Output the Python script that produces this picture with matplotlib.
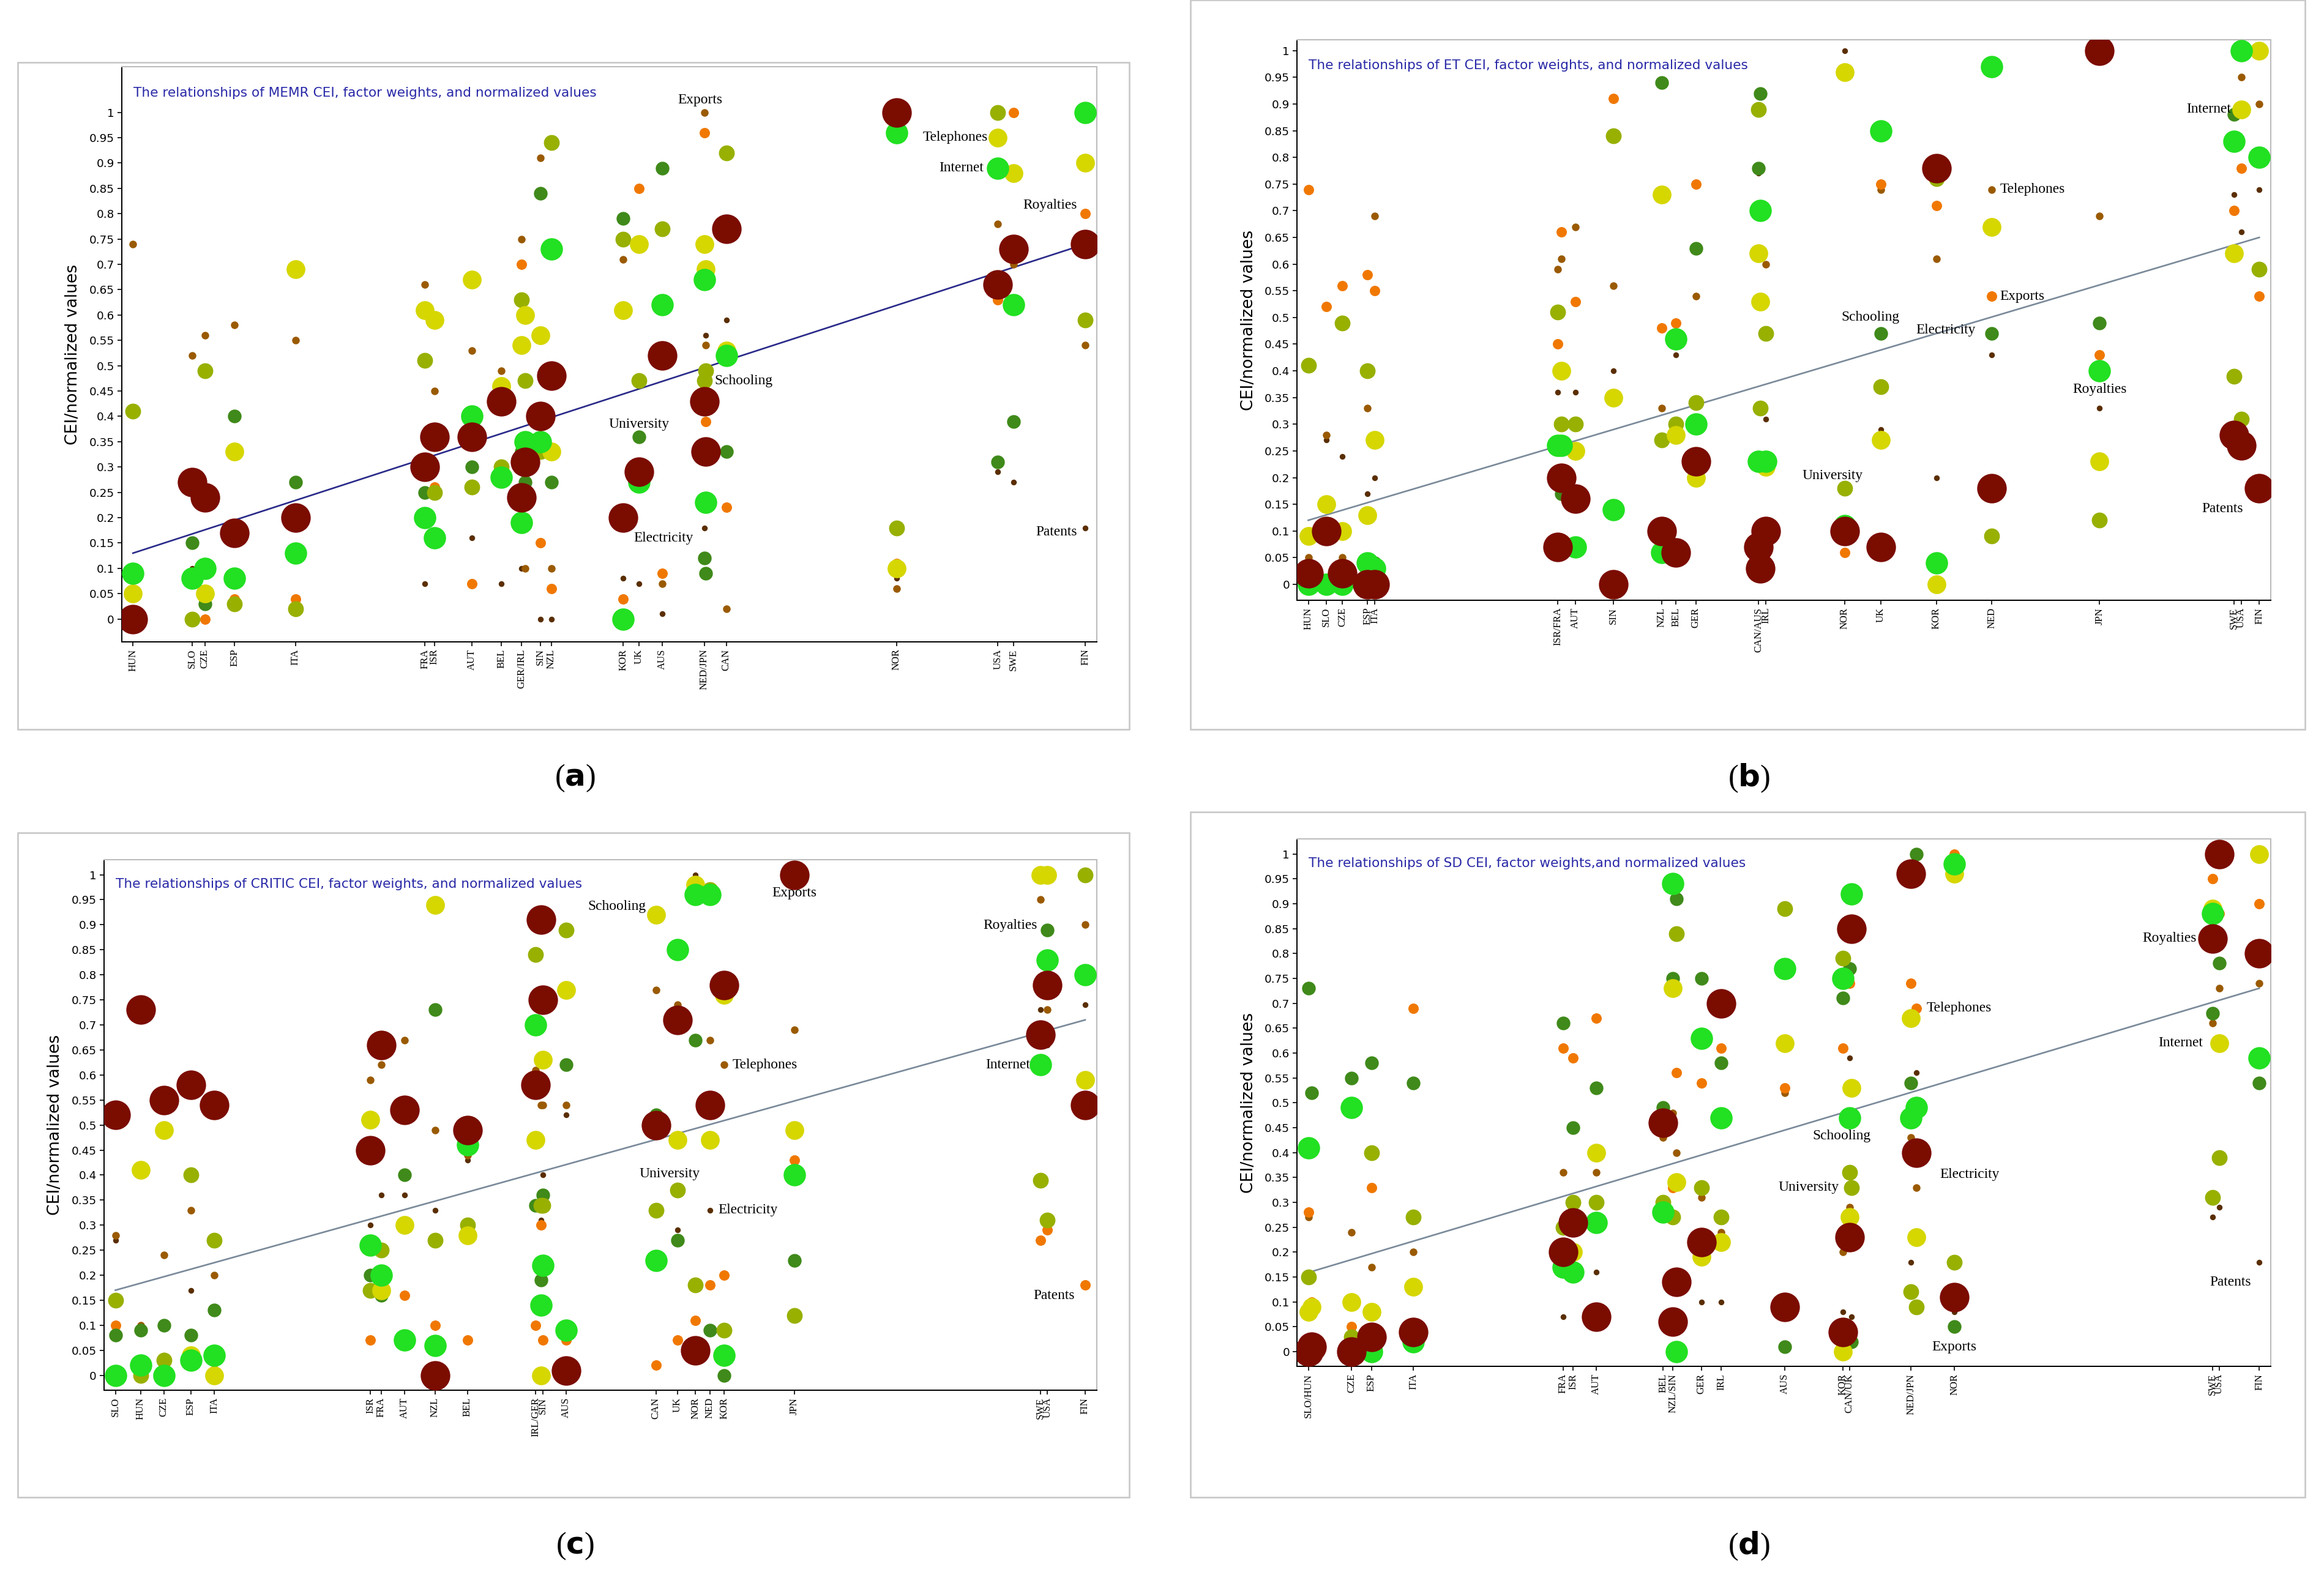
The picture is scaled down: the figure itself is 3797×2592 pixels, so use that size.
import matplotlib
matplotlib.use("Agg")
import matplotlib.pyplot as plt
from matplotlib.patches import Rectangle

# ---------------- DATA ----------------
IND = ["Electricity", "Telephones", "Internet", "Exports", "Patents", "Royalties", "Schooling", "University"]

# Panel (a) MEMR
a_countries = ["HUN","SLO","CZE","ESP","ITA","FRA","ISR","AUT","BEL","GER","IRL","SIN","NZL","KOR","UK","AUS","NED","JPN","CAN","NOR","USA","SWE","FIN"]
a_cei = [.13,.168,.176,.195,.234,.317,.323,.347,.366,.379,.381,.391,.398,.444,.454,.469,.496,.497,.510,.619,.684,.694,.740]
a_electricity = [0,.27,.24,.17,.20,.30,.36,.36,.43,.24,.31,.40,.48,.20,.29,.52,.43,.33,.77,1.0,.66,.73,.74]
a_internet = [.09,.08,.10,.08,.13,.20,.16,.40,.28,.19,.35,.35,.73,0,.27,.62,.67,.23,.52,.96,.89,.62,1.0]
a_telephones = [.05,.28,.05,.33,.69,.61,.59,.67,.46,.54,.60,.56,.33,.61,.74,.53,.74,.69,.53,.10,.95,.88,.90]
a_schooling = [.41,0,.49,.03,.02,.51,.25,.26,.30,.63,.47,.33,.94,.75,.47,.77,.47,.49,.92,.18,1.0,.88,.59]
a_university = [.09,.15,.03,.40,.27,.25,.16,.30,.28,.33,.27,.84,.27,.79,.36,.89,.12,.09,.33,.18,.31,.39,.59]
a_royalties = [0,0,0,.04,.04,.19,.26,.07,.46,.70,.20,.15,.06,.04,.85,.09,.96,.39,.22,.11,.63,1.0,.80]
a_exports = [.74,.52,.56,.58,.55,.66,.45,.53,.49,.75,.10,.91,.10,.71,.75,.07,1.0,.54,.02,.06,.78,.70,.54]
a_patents = [0,.10,.05,.03,.01,.07,.30,.16,.07,.10,.22,0,0,.08,.07,.01,.18,.56,.59,.08,.29,.27,.18]

# Panel (b) ET
b_countries = ["HUN","SLO","CZE","ESP","ITA","ISR","FRA","AUT","SIN","NZL","BEL","GER","CAN","AUS","IRL","NOR","UK","KOR","NED","JPN","SWE","USA","FIN"]
b_cei = [.12,.130,.139,.153,.157,.259,.261,.269,.290,.317,.325,.336,.371,.372,.375,.419,.439,.470,.501,.561,.636,.640,.650]
b_patents = [.02,.10,.02,0,0,.07,.20,.16,0,.10,.06,.23,.07,.03,.10,.10,.07,.78,.18,1.0,.28,.26,.18]
b_royalties = [0,0,0,.04,.03,.26,.26,.07,.14,.06,.46,.30,.23,.70,.23,.11,.85,.04,.97,.40,.83,1.0,.80]
b_internet = [.09,.15,.10,.13,.27,.20,.40,.25,.35,.73,.28,.20,.62,.53,.22,.96,.27,0,.67,.23,.62,.89,1.0]
b_university = [.41,.15,.49,.40,.27,.51,.30,.30,.84,.27,.30,.34,.89,.33,.47,.18,.37,.76,.09,.12,.39,.31,.59]
b_schooling = [.09,.15,.49,.40,.04,.51,.17,.30,.84,.94,.28,.63,.78,.92,.47,.18,.47,.76,.47,.49,.88,1.0,.59]
b_exports = [.74,.52,.56,.58,.55,.45,.66,.53,.91,.48,.49,.75,.02,.07,.10,.06,.75,.71,.54,.43,.70,.78,.54]
b_telephones = [.05,.28,.05,.33,.69,.59,.61,.67,.56,.33,.46,.54,.53,.53,.60,.10,.74,.61,.74,.69,.88,.95,.90]
b_electricity = [0,.27,.24,.17,.20,.36,.30,.36,.40,.48,.43,.24,.77,.52,.31,1.0,.29,.20,.43,.33,.73,.66,.74]

# Panel (c) CRITIC
c_countries = ["SLO","HUN","CZE","ESP","ITA","ISR","FRA","AUT","NZL","BEL","IRL","GER","SIN","AUS","CAN","UK","NOR","NED","KOR","JPN","SWE","USA","FIN"]
c_cei = [.17,.184,.197,.212,.225,.312,.318,.331,.348,.366,.404,.407,.408,.421,.471,.483,.493,.501,.509,.548,.685,.689,.710]
c_exports = [.52,.73,.55,.58,.54,.45,.66,.53,0,.49,.58,.91,.75,.01,.50,.71,.05,.54,.78,1.0,.68,.78,.54]
c_internet = [0,.02,0,.03,.04,.26,.20,.07,.06,.46,.70,.14,.22,.09,.23,.85,.96,.96,.04,.40,.62,.83,.80]
c_schooling = [0,.41,.49,.04,0,.51,.17,.30,.94,.28,.47,0,.63,.77,.92,.47,.98,.47,.76,.49,1.0,1.0,.59]
c_university = [.15,0,.03,.40,.27,.17,.25,.30,.27,.30,.84,.34,.34,.89,.33,.37,.18,.97,.09,.12,.39,.31,1.0]
c_royalties = [.08,.09,.10,.08,.13,.20,.16,.40,.73,.28,.34,.19,.36,.62,.52,.27,.67,.09,0,.23,1.0,.89,1.0]
c_patents = [.10,0,0,.04,.01,.07,.19,.16,.10,.07,.10,.30,.07,.07,.02,.07,.11,.18,.20,.43,.27,.29,.18]
c_telephones = [.28,.10,.24,.33,.20,.59,.62,.67,.49,.44,.61,.54,.54,.54,.77,.74,.98,.67,.62,.69,.95,.73,.90]
c_electricity = [.27,0,.04,.17,.20,.30,.36,.36,.33,.43,.61,.31,.40,.52,.77,.29,1.0,.33,.20,.69,.73,.66,.74]

# Panel (d) SD
d_countries = ["SLO","HUN","CZE","ESP","ITA","FRA","ISR","AUT","BEL","NZL","SIN","GER","IRL","AUS","KOR","CAN","UK","NED","JPN","NOR","SWE","USA","FIN"]
d_cei = [.159,.161,.185,.197,.222,.312,.318,.332,.372,.378,.380,.395,.407,.445,.480,.484,.485,.521,.524,.547,.702,.706,.730]
d_royalties = [0,.01,0,.03,.04,.20,.26,.07,.46,.06,.14,.22,.70,.09,.04,.23,.85,.96,.40,.11,.83,1.0,.80]
d_schooling = [.41,0,.49,0,.02,.17,.16,.26,.28,.94,0,.63,.47,.77,.75,.47,.92,.47,.49,.98,.88,1.0,.59]
d_internet = [.08,.09,.10,.08,.13,.20,.20,.40,.28,.73,.34,.19,.22,.62,0,.27,.53,.67,.23,.96,.89,.62,1.0]
d_university = [.15,0,.03,.40,.27,.25,.30,.30,.30,.27,.84,.33,.27,.89,.79,.36,.33,.12,.09,.18,.31,.39,.59]
d_exports = [.73,.52,.55,.58,.54,.66,.45,.53,.49,.75,.91,.75,.58,.01,.71,.77,.02,.54,1.0,.05,.68,.78,.54]
d_telephones = [.28,.10,.05,.33,.69,.61,.59,.67,.46,.33,.56,.54,.61,.53,.61,.74,.53,.74,.69,1.0,.95,.88,.90]
d_electricity = [.27,0,.24,.17,.20,.36,.30,.36,.43,.48,.40,.31,.24,.52,.20,.29,.77,.43,.33,1.0,.66,.73,.74]
d_patents = [.10,0,.05,.03,.01,.07,.30,.16,.07,0,0,.10,.10,.01,.08,.59,.07,.18,.56,.08,.27,.29,.18]

# ---------------- STYLE ----------------
RANK_COL = ["#7b0c00", "#22e022", "#d6d600", "#98b000", "#3f8a1a", "#f07800", "#9a5a00", "#5a2e00"]
RANK_S = [210, 120, 85, 60, 45, 26, 14, 8]

panels = [
    dict(tag="a", title="The relationships of MEMR CEI, factor weights, and normalized values",
         countries=a_countries, cei=a_cei, line="#2a2a8a",
         series=[("Electricity", a_electricity), ("Internet", a_internet), ("Telephones", a_telephones),
                 ("Schooling", a_schooling), ("University", a_university), ("Royalties", a_royalties),
                 ("Exports", a_exports), ("Patents", a_patents)],
         labels=[("Exports", "NED", (-2, 6), "center"), ("Telephones", "USA", (-5, 0), "right"),
                 ("Internet", "USA", (-7, 0), "right"), ("Royalties", "FIN", (-4, 4), "right"),
                 ("Schooling", "NED", (5, 0), "left"), ("University", "UK", (0, 6), "center"),
                 ("Electricity", "KOR", (5, -10), "left"), ("Patents", "FIN", (-4, -2), "right")],
         frame=(12, 42, 762, 492), ax=(82, 45, 740, 433), ylim=(-0.045, 1.09), cap=(388, 525)),
    dict(tag="b", title="The relationships of ET CEI, factor weights, and normalized values",
         countries=b_countries, cei=b_cei, line="#7a8a9a",
         series=[("Patents", b_patents), ("Royalties", b_royalties), ("Internet", b_internet),
                 ("University", b_university), ("Schooling", b_schooling), ("Exports", b_exports),
                 ("Telephones", b_telephones), ("Electricity", b_electricity)],
         labels=[("Internet", "USA", (-5, 0), "right"), ("Telephones", "NED", (4, 0), "left"),
                 ("Exports", "NED", (4, 0), "left"), ("Schooling", "UK", (-5, 8), "center"),
                 ("Royalties", "JPN", (0, -9), "center"), ("University", "NOR", (-6, 6), "center"),
                 ("Electricity", "NED", (-8, 12), "right"), ("Patents", "FIN", (-8, -10), "right")],
         frame=(803, 0, 1555, 492), ax=(875, 27, 1532, 405), ylim=(-0.03, 1.02), cap=(1180, 525)),
    dict(tag="c", title="The relationships of CRITIC CEI, factor weights, and normalized values",
         countries=c_countries, cei=c_cei, line="#7a8a9a",
         series=[("Exports", c_exports), ("Internet", c_internet), ("Schooling", c_schooling),
                 ("University", c_university), ("Royalties", c_royalties), ("Patents", c_patents),
                 ("Telephones", c_telephones), ("Electricity", c_electricity)],
         labels=[("Exports", "JPN", (0, -9), "center"), ("Schooling", "CAN", (-5, 4), "right"),
                 ("Royalties", "USA", (-5, 2), "right"), ("Internet", "SWE", (-5, 0), "right"),
                 ("Telephones", "KOR", (4, 0), "left"), ("University", "UK", (-4, 8), "center"),
                 ("Electricity", "NED", (4, 0), "left"), ("Patents", "FIN", (-5, -5), "right")],
         frame=(12, 562, 762, 1010), ax=(70, 580, 740, 938), ylim=(-0.03, 1.03), cap=(388, 1043)),
    dict(tag="d", title="The relationships of SD CEI, factor weights,and normalized values",
         countries=d_countries, cei=d_cei, line="#7a8a9a",
         series=[("Royalties", d_royalties), ("Schooling", d_schooling), ("Internet", d_internet),
                 ("University", d_university), ("Exports", d_exports), ("Telephones", d_telephones),
                 ("Electricity", d_electricity), ("Patents", d_patents)],
         labels=[("Royalties", "SWE", (-8, 0), "right"), ("Telephones", "JPN", (5, 0), "left"),
                 ("Internet", "USA", (-8, 0), "right"), ("Schooling", "CAN", (-4, -9), "center"),
                 ("University", "UK", (-6, 0), "right"), ("Electricity", "NED", (14, -18), "left"),
                 ("Exports", "NOR", (0, -10), "center"), ("Patents", "FIN", (-4, -10), "right")],
         frame=(803, 548, 1555, 1010), ax=(875, 566, 1532, 922), ylim=(-0.03, 1.03), cap=(1180, 1043)),
]

W, H = 1568.0, 1070.0
fig = plt.figure(figsize=(3797/240, 2592/240), dpi=240)
serif = "Liberation Serif"

for p in panels:
    fx0, fy0, fx1, fy1 = p["frame"]
    fig.patches.append(Rectangle((fx0/W, 1-fy1/H), (fx1-fx0)/W, (fy1-fy0)/H,
                                 transform=fig.transFigure, fill=False, ec="#c8c8c8", lw=0.8))
    x0, y0, x1, y1 = p["ax"]
    ax = fig.add_axes([x0/W, 1-y1/H, (x1-x0)/W, (y1-y0)/H])
    cei = p["cei"]
    lo, hi = min(cei), max(cei)
    pad = (hi-lo)*0.012
    ax.set_xlim(lo-pad, hi+pad)
    ax.set_ylim(*p["ylim"])
    ax.plot([lo, hi], [lo, hi], color=p["line"], lw=0.8, zorder=1)
    lookup = {}
    for r, (name, vals) in enumerate(p["series"]):
        ax.scatter(cei, vals, s=RANK_S[r], color=RANK_COL[r], lw=0, zorder=10-r)
        lookup[name] = vals
    for name, ctry, off, ha in p["labels"]:
        i = p["countries"].index(ctry)
        ax.annotate(name, (cei[i], lookup[name][i]), xytext=off, textcoords="offset points",
                    ha=ha, va="center", fontsize=7, family=serif, zorder=20)
    ax.set_yticks([k*0.05 for k in range(21)])
    ax.set_yticklabels(["0" if k == 0 else ("1" if k == 20 else f"{k*0.05:.2f}".rstrip("0")) for k in range(21)],
                       fontsize=5.5)
    # merge country labels whose positions nearly coincide (as in the reference, e.g. NED/JPN)
    ticks, tlabels = [], []
    thr = (hi - lo) * 0.006
    for xv, c in zip(cei, p["countries"]):
        if ticks and xv - ticks[-1] < thr:
            tlabels[-1] = tlabels[-1] + "/" + c
        else:
            ticks.append(xv)
            tlabels.append(c)
    ax.set_xticks(ticks)
    ax.set_xticklabels(tlabels, rotation=90, fontsize=5, family=serif)
    ax.tick_params(length=2, width=0.5, pad=1.5)
    ax.set_ylabel("CEI/normalized values", fontsize=8)
    for s in ["top", "right"]:
        ax.spines[s].set_color("#bbbbbb")
    for s in ax.spines.values():
        s.set_linewidth(0.6)
    ax.text(0.012, 0.965, p["title"], transform=ax.transAxes, color="#2a2aa8", fontsize=6.5, va="top")
    cx, cy = p["cap"]
    fig.text(cx/W, 1-cy/H, "(" + r"$\mathbf{" + p["tag"] + "}$" + ")", ha="center", va="center",
             fontsize=15, family=serif)

fig.savefig("out.png", dpi=240)
